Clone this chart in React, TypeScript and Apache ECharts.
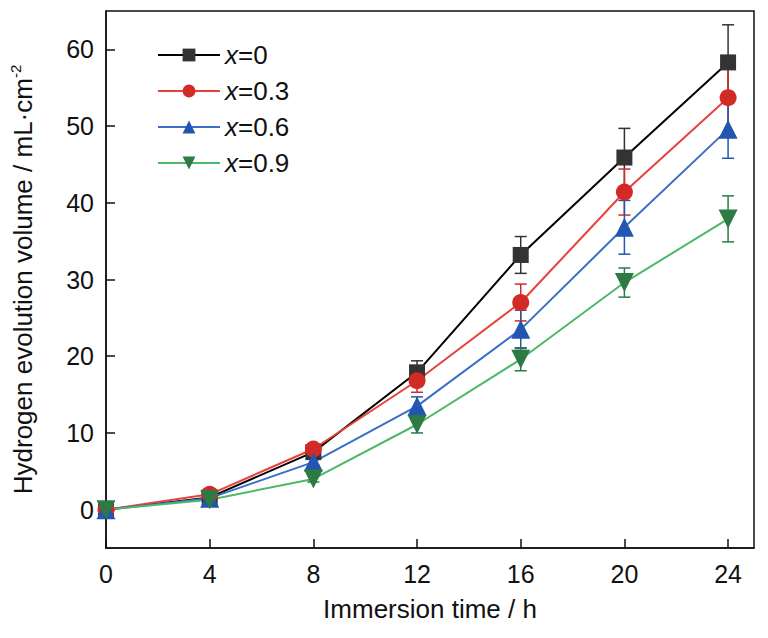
import React, { useEffect, useRef } from 'react';
import * as echarts from 'echarts';

const hours = [0, 4, 8, 12, 16, 20, 24];
const xTicks = [0, 4, 8, 12, 16, 20, 24];
const yTicks = [0, 10, 20, 30, 40, 50, 60];

const names = ['x=0', 'x=0.3', 'x=0.6', 'x=0.9'];
const vol0 = [0, 1.6, 7.5, 17.9, 33.2, 45.9, 58.3];
const vol03 = [0, 2.0, 7.9, 16.8, 27.0, 41.4, 53.7];
const vol06 = [0, 1.5, 6.2, 13.5, 23.5, 36.8, 49.6];
const vol09 = [0, 1.3, 4.0, 11.1, 19.6, 29.6, 37.9];

const err0 = [0, 0.2, 0.5, 1.5, 2.4, 3.8, 4.9];
const err03 = [0, 0.3, 0.5, 1.5, 2.4, 3.0, 4.5];
const err06 = [0, 0.3, 0.4, 1.2, 2.5, 3.5, 3.8];
const err09 = [0, 0.2, 0.4, 1.1, 1.5, 1.9, 3.0];

const lineColors = ['#000000', '#e8413a', '#3a6fc6', '#4cb868'];
const markColors = ['#333333', '#d22b27', '#2356b0', '#2d7a45'];
const symbols = ['rect', 'circle', 'triangle', 'path://M0,0 L10,0 L5,9 Z'];
const symbolSizes = [16, 17, 19, 19];

const FONT = '"Liberation Sans", Arial, sans-serif';

const App: React.FC = () => {
    const chartRef = useRef<HTMLDivElement | null>(null);

    useEffect(() => {
        if (!chartRef.current) return;
        const chart = echarts.init(chartRef.current, null, { renderer: 'svg' });

        const vols = [vol0, vol03, vol06, vol09];
        const errs = [err0, err03, err06, err09];

        const lineSeries = vols.map((v, i) => ({
            name: names[i],
            type: 'line',
            data: hours.map((h, j) => [h, v[j]]),
            symbol: symbols[i],
            symbolSize: symbolSizes[i],
            lineStyle: { color: lineColors[i], width: 2 },
            itemStyle: { color: markColors[i] },
            z: 3,
        }));

        // error bars: vertical line with caps
        const errSeries = errs.map((e, i) => ({
            name: names[i] + ' err',
            type: 'custom',
            z: 2,
            silent: true,
            data: hours.map((h, j) => [h, vols[i][j] - e[j], vols[i][j] + e[j]]),
            renderItem: (params: any, api: any) => {
                const lo = api.coord([api.value(0), api.value(1)]);
                const hi = api.coord([api.value(0), api.value(2)]);
                const hw = 6;
                const style = { stroke: markColors[i], lineWidth: 1.5 };
                return {
                    type: 'group',
                    children: [
                        { type: 'line', shape: { x1: lo[0], y1: lo[1], x2: hi[0], y2: hi[1] }, style },
                        { type: 'line', shape: { x1: hi[0] - hw, y1: hi[1], x2: hi[0] + hw, y2: hi[1] }, style },
                        { type: 'line', shape: { x1: lo[0] - hw, y1: lo[1], x2: lo[0] + hw, y2: lo[1] }, style },
                    ],
                };
            },
        }));

        const option = {
            animation: false,
            backgroundColor: '#ffffff',
            textStyle: { fontFamily: FONT },
            grid: {
                left: 104, right: 14, top: 11, bottom: 90,
                show: true, borderColor: '#111', borderWidth: 1.5,
            },
            legend: {
                data: names,
                orient: 'vertical',
                left: 152,
                top: 37,
                itemWidth: 62,
                itemHeight: 16,
                itemGap: 10,
                formatter: (n: string) => '{i|x}' + n.slice(1),
                textStyle: {
                    fontFamily: FONT,
                    fontSize: 26,
                    color: '#111',
                    lineHeight: 24,
                    rich: {
                        i: { fontFamily: FONT, fontSize: 26, fontStyle: 'italic', color: '#111', lineHeight: 24 },
                    },
                },
            },
            xAxis: {
                type: 'value',
                min: 0,
                max: 25,
                name: 'Immersion time / h',
                nameLocation: 'middle',
                nameGap: 48,
                nameTextStyle: { fontFamily: FONT, fontSize: 26, color: '#111' },
                axisLine: { onZero: false, lineStyle: { color: '#111', width: 1.5 } },
                axisTick: { inside: true, length: 9, customValues: xTicks, lineStyle: { color: '#111', width: 1.5 } },
                axisLabel: { customValues: xTicks, fontFamily: FONT, fontSize: 25, color: '#111', margin: 13 },
                splitLine: { show: false },
            },
            yAxis: {
                type: 'value',
                min: -5,
                max: 65,
                name: '{a|Hydrogen evolution volume / mL·cm}{s|-2}',
                nameLocation: 'middle',
                nameGap: 68,
                nameTextStyle: {
                    fontFamily: FONT,
                    color: '#111',
                    rich: {
                        a: { fontFamily: FONT, fontSize: 26, color: '#111', lineHeight: 30 },
                        s: { fontFamily: FONT, fontSize: 15, color: '#111', verticalAlign: 'top', lineHeight: 30, padding: [0, 0, 14, 0] },
                    },
                },
                axisLine: { onZero: false, lineStyle: { color: '#111', width: 1.5 } },
                axisTick: { inside: true, length: 9, customValues: yTicks, lineStyle: { color: '#111', width: 1.5 } },
                axisLabel: { customValues: yTicks, fontFamily: FONT, fontSize: 25, color: '#111', margin: 12 },
                splitLine: { show: false },
            },
            series: [...errSeries, ...lineSeries],
        };

        chart.setOption(option as any);
        return () => {
            chart.dispose();
        };
    }, []);

    return (
        <div
            ref={chartRef}
            style={{ position: 'absolute', left: 0, top: 0, width: 768, height: 638 }}
        />
    );
};

export default App;
